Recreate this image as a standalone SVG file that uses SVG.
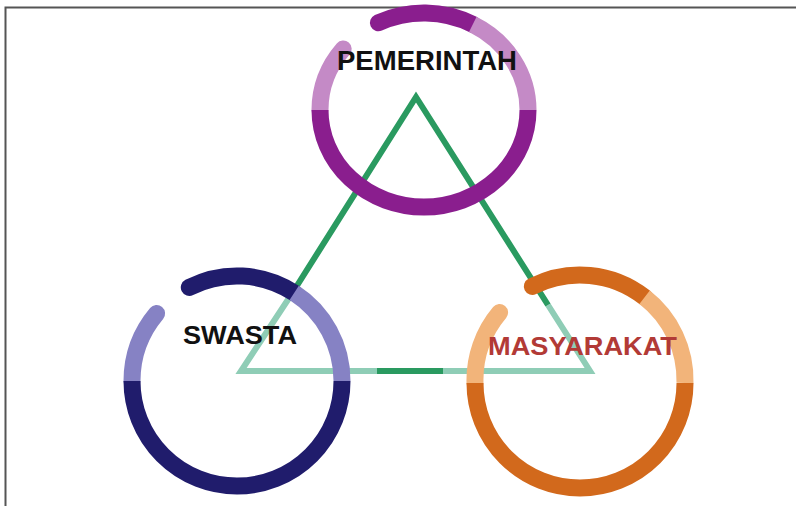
<svg xmlns="http://www.w3.org/2000/svg" width="796" height="506" viewBox="0 0 796 506">
<style>
.frame{stroke:#555;stroke-width:2;fill:none}
.ring{fill:none;stroke-width:17}
.rc{stroke-linecap:round}
.bc{stroke-linecap:butt}
.gd{stroke:#2a9a60;stroke-width:6;fill:none;stroke-linejoin:miter;stroke-miterlimit:20}
.gl{stroke:#8fcdb6;stroke-width:6;fill:none;stroke-linejoin:miter;stroke-miterlimit:20}
.lbl{font-family:"Liberation Sans",Arial,sans-serif;font-weight:bold;text-anchor:middle}
</style>
<rect width="796" height="506" fill="#fff"/>
<path class="frame" d="M5.5,506 V7.5 H796"/>
<g id="connectors">
<polyline class="gl" points="293,292 241,371 590,371 548,305"/>
<polyline class="gd" points="293,292 416,97 548,305"/>
<line class="gd" x1="377" y1="371" x2="443" y2="371"/>
</g>
<g id="pemerintah">
<path class="ring rc" stroke="#c48ac6" d="M320,110 A104,97 0 0 1 343.2,49"/>
<path class="ring rc" stroke="#8a1e8e" d="M378.4,22.8 A104,97 0 0 1 472.8,24.4"/>
<path class="ring bc" stroke="#c48ac6" d="M472.8,24.4 A104,97 0 0 1 528,110"/>
<path class="ring bc" stroke="#8a1e8e" d="M528,110 A104,97 0 0 1 320,110"/>
<text class="lbl" x="427" y="70" font-size="27" fill="#111" textLength="180" lengthAdjust="spacingAndGlyphs">PEMERINTAH</text>
</g>
<g id="swasta">
<path class="ring rc" stroke="#8682c4" d="M132,381 A105,105 0 0 1 156.6,313.5"/>
<path class="ring rc" stroke="#201c6c" d="M189.3,287.4 A105,105 0 0 1 294.2,292.9"/>
<path class="ring bc" stroke="#8682c4" d="M294.2,292.9 A105,105 0 0 1 342,381"/>
<path class="ring bc" stroke="#201c6c" d="M342,381 A105,105 0 0 1 132,381"/>
<text class="lbl" x="240" y="344" font-size="25.5" fill="#111" textLength="114" lengthAdjust="spacingAndGlyphs">SWASTA</text>
</g>
<g id="masyarakat">
<path class="ring rc" stroke="#f2b47a" d="M475,383 A105,105 0 0 1 499.6,312.5"/>
<path class="ring rc" stroke="#d2691c" d="M532.3,286.4 A105,105 0 0 1 644.6,297.3"/>
<path class="ring bc" stroke="#f2b47a" d="M644.6,297.3 A105,105 0 0 1 685,383"/>
<path class="ring bc" stroke="#d2691c" d="M685,383 A105,105 0 0 1 475,383"/>
<text class="lbl" x="582.5" y="355" font-size="26.5" fill="#b23a36" textLength="189" lengthAdjust="spacingAndGlyphs">MASYARAKAT</text>
</g>
</svg>
